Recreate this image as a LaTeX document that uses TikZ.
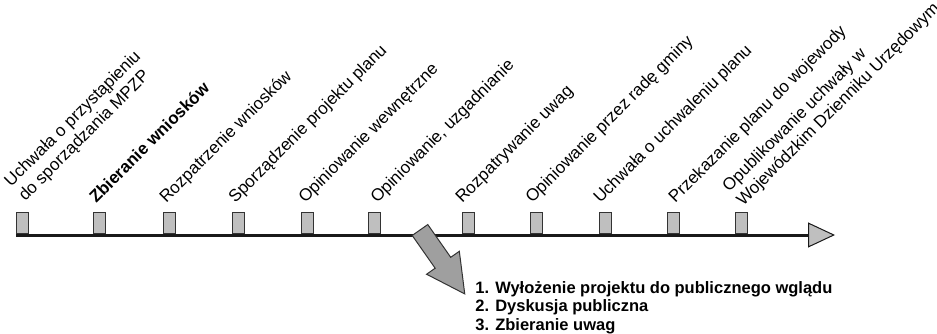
\documentclass[tikz,border=0pt]{standalone}
\usepackage{fontspec}
\setmainfont{Liberation Sans}
\usepackage{xcolor}
\usepackage{tikz}
\usetikzlibrary{positioning,shapes,arrows.meta}

\begin{document}
\begin{tikzpicture}[x=0.5pt, y=0.5pt,
        tickbox/.style={draw=black!80, fill=gray!50, line width=0.5pt, minimum width=6pt, minimum height=10.5pt, inner sep=0pt, anchor=south},
        stage/.style={rotate=45, anchor=base west, inner sep=0pt, align=left, font=\fontsize{8.5}{10}\selectfont},
        timeline/.style={line width=1.5pt, draw=black!90, -{Triangle[length=13.5pt, width=12.5pt, line width=0.5pt, fill=gray!50]}},
        pointer/.style={draw=black!80, fill=gray!75, line width=0.5pt}]
    \useasboundingbox (0,0) rectangle (937,333);
    \coordinate (start) at (16,98);
    \coordinate (end) at (835,98);
    \draw[timeline] (start) -- (end);
    \foreach \i/\x/\lx/\ly/\txt in {
        1/22/25/131/{Uchwała o przystąpieniu\\do sporządzania MPZP},
        2/99/96/129/{\textbf{Zbieranie wniosków}},
        3/169/166/129/{Rozpatrzenie wniosków},
        4/238/235/129/{Sporządzenie projektu planu},
        5/307/305/129/{Opiniowanie wewnętrzne},
        6/374/377/129/{Opiniowanie, uzgadnianie},
        7/468/462/129/{Rozpatrywanie uwag},
        8/536/532/129/{Opiniowanie przez radę gminy},
        9/605/600/129/{Uchwała o uchwaleniu planu},
        10/673/675/129/{Przekazanie planu do wojewody},
        11/741/743/126/{Opublikowanie uchwały w\\Wojewódzkim Dzienniku Urzędowym}}{
        \node[tickbox] (tick\i) at (\x,99) {};
        \node[stage] (stage\i) at (\lx,\ly) {\txt};
    }
    \coordinate (tail) at (420,103);
    \begin{scope}[shift={(tail)}, rotate=-55]
        \draw[pointer] (0,9.5) -- (40,9.5) -- (40,20) -- (78,0) -- (40,-20) -- (40,-9.5) -- (0,-9.5) -- cycle;
    \end{scope}
    \node[anchor=base west, inner sep=0pt, align=left, font=\fontsize{8.25}{9.25}\selectfont\bfseries] (steps) at (475,3)
        {1. Wyłożenie projektu do publicznego wglądu\\2. Dyskusja publiczna\\3. Zbieranie uwag};
\end{tikzpicture}
\end{document}
